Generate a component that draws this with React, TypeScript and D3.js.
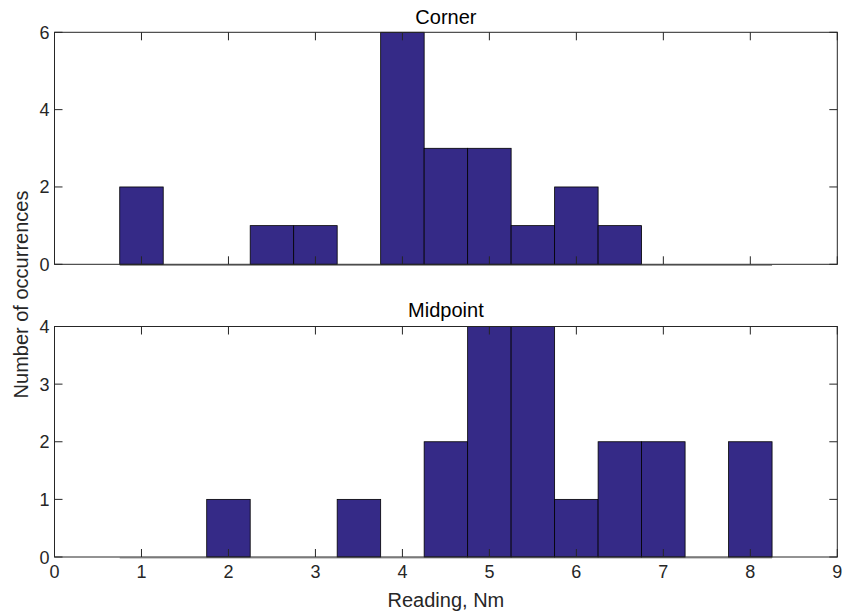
import React from "react";
import * as d3 from "d3";

const binCenters = [1, 1.5, 2, 2.5, 3, 3.5, 4, 4.5, 5, 5.5, 6, 6.5, 7, 7.5, 8];
const cornerCounts = [2, 0, 0, 1, 1, 0, 6, 3, 3, 1, 2, 1, 0, 0, 0];
const midpointCounts = [0, 0, 1, 0, 0, 1, 0, 2, 4, 4, 1, 2, 2, 0, 2];
const xTicks = [0, 1, 2, 3, 4, 5, 6, 7, 8, 9];
const cornerYTicks = [0, 2, 4, 6];
const midpointYTicks = [0, 1, 2, 3, 4];
const binWidth = 0.5;

const W = 851, H = 613;
const left = 54.5, right = 837.3;
const barColor = "#352a87";
const axisColor = "#262626";
const font = "Liberation Sans, Arial, sans-serif";

function Panel({ counts, yMax, yTicks, top, bottom, title, titleY, showX }: any) {
  const x = d3.scaleLinear().domain([0, 9]).range([left, right]);
  const y = d3.scaleLinear().domain([0, yMax]).range([bottom, top]);
  const tl = 8;
  return (
    <g>
      <line x1={x(binCenters[0] - binWidth / 2)} x2={x(binCenters[binCenters.length - 1] + binWidth / 2)} y1={bottom + 1} y2={bottom + 1} stroke="#999" strokeWidth={1.2} />
      {binCenters.map((c, i) =>
        counts[i] > 0 ? (
          <rect key={i} x={x(c - binWidth / 2)} y={y(counts[i])} width={x(c + binWidth / 2) - x(c - binWidth / 2)} height={bottom - y(counts[i])} fill={barColor} stroke="#000" strokeWidth={0.8} />
        ) : null
      )}
      <rect x={left} y={top} width={right - left} height={bottom - top} fill="none" stroke={axisColor} strokeWidth={1} />
      {xTicks.map((t) => (
        <g key={"x" + t}>
          <line x1={x(t)} x2={x(t)} y1={bottom} y2={bottom - tl} stroke={axisColor} />
          <line x1={x(t)} x2={x(t)} y1={top} y2={top + tl} stroke={axisColor} />
          {showX && (
            <text x={x(t)} y={bottom + 21} textAnchor="middle" fontSize={18} fill={axisColor} fontFamily={font}>{t}</text>
          )}
        </g>
      ))}
      {yTicks.map((t: number) => (
        <g key={"y" + t}>
          <line x1={left} x2={left + tl} y1={y(t)} y2={y(t)} stroke={axisColor} />
          <line x1={right} x2={right - tl} y1={y(t)} y2={y(t)} stroke={axisColor} />
          <text x={left - 5} y={y(t) + 6.5} textAnchor="end" fontSize={18} fill={axisColor} fontFamily={font}>{t}</text>
        </g>
      ))}
      <text x={(left + right) / 2} y={titleY} textAnchor="middle" fontSize={20} fill="#000" fontFamily={font}>{title}</text>
    </g>
  );
}

export default function App() {
  return (
    <svg width={W} height={H} style={{ position: "absolute", left: 0, top: 0, background: "#fff" }}>
      <rect width={W} height={H} fill="#fff" />
      <Panel counts={cornerCounts} yMax={6} yTicks={cornerYTicks} top={32.3} bottom={264.3} title="Corner" titleY={24} showX={false} />
      <Panel counts={midpointCounts} yMax={4} yTicks={midpointYTicks} top={326.5} bottom={557} title="Midpoint" titleY={317} showX={true} />
      <text x={(left + right) / 2} y={607} textAnchor="middle" fontSize={20} fill={axisColor} fontFamily={font}>Reading, Nm</text>
      <text transform={`translate(28,${(32 + 557) / 2}) rotate(-90)`} textAnchor="middle" fontSize={20} fill={axisColor} fontFamily={font}>Number of occurrences</text>
    </svg>
  );
}
